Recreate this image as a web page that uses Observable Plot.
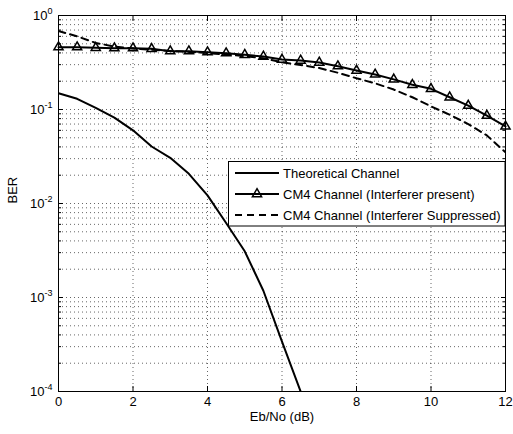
<!DOCTYPE html>
<html><head><meta charset="utf-8">
<script src="https://cdn.jsdelivr.net/npm/d3@7"></script>
<script src="https://cdn.jsdelivr.net/npm/@observablehq/plot@0.6"></script>
<style>
body{margin:0;background:#fff}
svg{font-family:"Liberation Sans",Arial,Helvetica,sans-serif}
</style>
</head><body><div id="chart"></div>
<script>
// ---- data ----
const ebno = [0,0.5,1,1.5,2,2.5,3,3.5,4,4.5,5,5.5,6,6.5,7,7.5,8,8.5,9,9.5,10,10.5,11,11.5,12];
const theoEbno = [0,0.5,1,1.5,2,2.5,3,3.5,4,4.5,5,5.5,6,6.5];
const theoretical = [0.149,0.130,0.104,0.082,0.060,0.0404,0.0306,0.0207,0.0122,0.0062,0.0031,0.00118,0.00034,0.0001];
const interfererPresent = [0.46,0.46,0.453,0.449,0.449,0.442,0.417,0.417,0.407,0.397,0.382,0.366,0.340,0.332,0.316,0.289,0.260,0.236,0.209,0.183,0.166,0.135,0.110,0.086,0.066];
const interfererSuppressed = [0.684,0.60,0.51,0.468,0.445,0.432,0.42,0.41,0.398,0.385,0.37,0.35,0.318,0.298,0.276,0.246,0.215,0.19,0.163,0.135,0.108,0.088,0.070,0.053,0.035];
const xTicks = [0,2,4,6,8,10,12];
const yTicks = [1e-4,1e-3,1e-2,1e-1,1];
const yTickBase = "10";
const yTickExponents = ["-4","-3","-2","-1","0"];
const seriesNames = ["Theoretical Channel","CM4 Channel (Interferer present)","CM4 Channel (Interferer Suppressed)"];
const xLabel = "Eb/No (dB)";
const yLabel = "BER";

// ---- derived ----
const yMinor = [];
for (let e = -4; e < 0; e++) for (let k = 2; k <= 9; k++) yMinor.push(+(k + "e" + e));
const yGrid = yTicks.slice(1, -1).concat(yMinor);
const xGrid = xTicks.slice(1, -1);

const theo = theoEbno.map((x, i) => ({x, y: theoretical[i]}));
const present = ebno.map((x, i) => ({x, y: interfererPresent[i]}));
const suppressed = ebno.map((x, i) => ({x, y: interfererSuppressed[i]}));

const grid = {stroke: "#000", strokeOpacity: 0.6, strokeWidth: 1, strokeDasharray: "1,3"};
const noText = () => "";
const FS = 13;

const chart = Plot.plot({
  width: 513, height: 434,
  marginLeft: 58, marginRight: 8, marginTop: 15, marginBottom: 43,
  style: {fontFamily: '"Liberation Sans",Arial,sans-serif', fontSize: FS + "px", background: "white", color: "black", overflow: "visible"},
  x: {domain: [0, 12]},
  y: {type: "log", domain: [1e-4, 1]},
  marks: [
    Plot.ruleX(xGrid, {x: d => d, ...grid}),
    Plot.ruleY(yGrid, {y: d => d, ...grid}),
    Plot.line(theo, {x: "x", y: "y", stroke: "black", strokeWidth: 2, clip: true}),
    Plot.line(suppressed, {x: "x", y: "y", stroke: "black", strokeWidth: 2, strokeDasharray: "7,5", clip: true}),
    Plot.line(present, {x: "x", y: "y", stroke: "black", strokeWidth: 2}),
    Plot.dot(present, {x: "x", y: "y", symbol: "triangle", r: 3.4, stroke: "black", strokeWidth: 1.5, fill: "none"}),
    Plot.frame({stroke: "black", strokeWidth: 1}),
    Plot.axisX(xTicks, {anchor: "bottom", tickSize: 0, tickPadding: 5, fontSize: FS, tickFormat: d => String(d), label: null}),
    Plot.axisX(xTicks, {anchor: "bottom", tickSize: -5, tickFormat: noText, label: null}),
    Plot.axisX(xTicks, {anchor: "top", tickSize: -5, tickFormat: noText, label: null}),
    Plot.axisY(yTicks, {anchor: "left", tickSize: 0, tickPadding: 6, fontSize: FS, tickFormat: d => "E" + yTickExponents[yTicks.indexOf(d)], label: null}),
    Plot.axisY(yTicks, {anchor: "left", tickSize: -5, tickFormat: noText, label: null}),
    Plot.axisY(yTicks, {anchor: "right", tickSize: -5, tickFormat: noText, label: null}),
    Plot.axisY(yMinor, {anchor: "left", tickSize: -3, tickFormat: noText, label: null}),
    Plot.axisY(yMinor, {anchor: "right", tickSize: -3, tickFormat: noText, label: null}),
    Plot.text([xLabel], {text: d => d, frameAnchor: "bottom", dy: 29, fontSize: FS}),
    Plot.text([yLabel], {text: d => d, frameAnchor: "left", dx: -46, rotate: -90, fontSize: FS})
  ]
});
document.getElementById("chart").appendChild(chart);

const svg = d3.select(chart);
// superscript tick labels
svg.selectAll("text").each(function() {
  const t = d3.select(this);
  const s = t.text();
  if (s.startsWith("E") && s.length <= 3 && this.closest('g[aria-label="y-axis tick label"]')) {
    t.text("");
    t.append("tspan").text(yTickBase);
    t.append("tspan").attr("dy", "-6").attr("font-size", "9").text(s.slice(1));
  }
});

// legend inside the axes
const W = 513, mr = 8;
const lg = svg.append("g").attr("font-size", FS).attr("fill", "black").attr("text-anchor", "start");
const bx = 228.5, by = 161.5, bw = (W - mr) - bx, bh = 64.5;
lg.append("rect").attr("x", bx).attr("y", by).attr("width", bw).attr("height", bh)
  .attr("fill", "white").attr("stroke", "black").attr("stroke-width", 1);
const rows = [173, 194, 215];
const dashes = [null, null, "7,5"];
seriesNames.forEach((name, i) => {
  lg.append("line").attr("x1", 235).attr("x2", 279).attr("y1", rows[i]).attr("y2", rows[i])
    .attr("stroke", "black").attr("stroke-width", 2).attr("stroke-dasharray", dashes[i]);
  lg.append("text").attr("x", 283).attr("y", rows[i]).attr("dy", "0.35em").attr("text-anchor", "start").text(name);
});
lg.append("path").attr("transform", `translate(257,${rows[1]})`)
  .attr("d", d3.symbol(d3.symbolTriangle, Math.PI * 3.4 * 3.4)())
  .attr("fill", "none").attr("stroke", "black").attr("stroke-width", 1.5);
</script>
</body></html>
